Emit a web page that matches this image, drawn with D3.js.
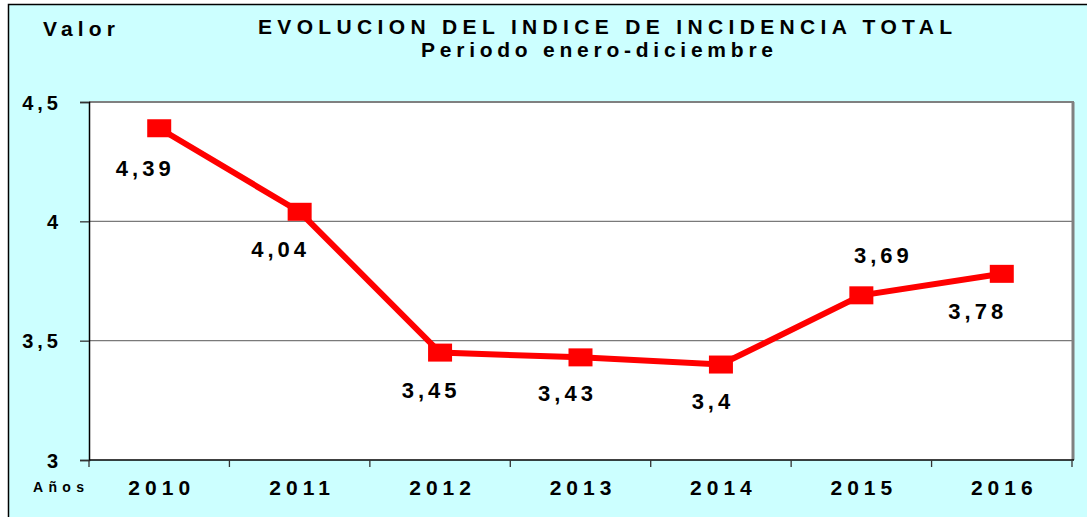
<!DOCTYPE html>
<html>
<head>
<meta charset="utf-8">
<script src="https://cdn.jsdelivr.net/npm/d3@7"></script>
<style>
    body { margin: 0; background: #ffffff; }
    svg text { font-family: "Liberation Sans", Arial, sans-serif; font-weight: bold; fill: #000; }
</style>
</head>
<body>
<svg id="chart" width="1087" height="517"></svg>
<script>
    //////////// DATA ////////////

    var years = ["2010", "2011", "2012", "2013", "2014", "2015", "2016"];
    var values = [4.39, 4.04, 3.45, 3.43, 3.4, 3.69, 3.78];
    var yTicks = [3, 3.5, 4, 4.5];
    // where each value label sits relative to its marker (dx, dy of baseline)
    var labelOffsets = [[-16, 48], [-21, 45], [-11, 45], [-15, 44], [-10, 44], [20, -32], [-26, 45]];

    var titleText = "EVOLUCION DEL INDICE DE INCIDENCIA TOTAL";
    var subtitleText = "Periodo enero-diciembre";

    //////////// LAYOUT ////////////

    var svg = d3.select("#chart");
    var plot = { left: 89, right: 1072, top: 102, bottom: 460 };

    var x = d3.scaleBand()
        .domain(years)
        .range([plot.left, plot.right])
        .paddingInner(0)
        .paddingOuter(0);

    var y = d3.scaleLinear()
        .domain([3, 4.5])
        .range([plot.bottom, plot.top]);

    var fmt = function (d) { return String(d).replace(".", ","); };

    // outer frame
    svg.append("rect")
        .attr("x", 8.5).attr("y", 4.5)
        .attr("width", 1100).attr("height", 530)
        .attr("fill", "#ccffff")
        .attr("stroke", "#000")
        .attr("stroke-width", 1.5);

    // plot area
    svg.append("rect")
        .attr("x", plot.left).attr("y", plot.top)
        .attr("width", plot.right - plot.left)
        .attr("height", plot.bottom - plot.top)
        .attr("fill", "#fff");

    // gridlines
    svg.append("g")
        .selectAll("line")
        .data(yTicks.filter(function (d) { return d > 3 && d < 4.5; }))
        .enter().append("line")
        .attr("x1", plot.left).attr("x2", plot.right)
        .attr("y1", function (d) { return y(d); })
        .attr("y2", function (d) { return y(d); })
        .attr("stroke", "#7a7a7a")
        .attr("stroke-width", 1.3);

    // top and right border of plot
    svg.append("line")
        .attr("x1", plot.left).attr("x2", plot.right + 2)
        .attr("y1", plot.top).attr("y2", plot.top)
        .attr("stroke", "#808080").attr("stroke-width", 2);
    svg.append("line")
        .attr("x1", plot.right + 1).attr("x2", plot.right + 1)
        .attr("y1", plot.top).attr("y2", plot.bottom)
        .attr("stroke", "#808080").attr("stroke-width", 3);

    // y axis
    var yAxis = svg.append("g")
        .attr("transform", "translate(" + plot.left + ",0)")
        .call(d3.axisLeft(y).tickValues(yTicks).tickSize(9).tickFormat(fmt));
    yAxis.attr("font-family", null).attr("font-size", null);
    yAxis.select(".domain").attr("stroke", "#000").attr("stroke-width", 1.5);
    yAxis.selectAll(".tick line").attr("stroke", "#333").attr("stroke-width", 1.3);
    yAxis.selectAll(".tick text")
        .attr("x", -27)
        .attr("dy", "0.36em")
        .style("font-size", "20px")
        .style("letter-spacing", "4px")
        .attr("fill", "#000");

    // x axis: labels centred in bands, ticks at band edges
    var xAxis = svg.append("g")
        .attr("transform", "translate(0," + plot.bottom + ")")
        .call(d3.axisBottom(x).tickSize(0).tickPadding(0));
    xAxis.attr("font-family", null).attr("font-size", null);
    xAxis.select(".domain").remove();
    xAxis.selectAll(".tick text")
        .attr("y", 35)
        .attr("dy", 0)
        .attr("dx", 2.5)
        .style("font-size", "21px")
        .style("letter-spacing", "5px")
        .attr("fill", "#000");

    svg.append("line")
        .attr("x1", plot.left).attr("x2", plot.right + 2)
        .attr("y1", plot.bottom).attr("y2", plot.bottom)
        .attr("stroke", "#000").attr("stroke-width", 1.5);

    var edges = years.map(function (d) { return x(d); }).concat([plot.right]);
    svg.append("g")
        .selectAll("line")
        .data(edges)
        .enter().append("line")
        .attr("x1", function (d) { return d; })
        .attr("x2", function (d) { return d; })
        .attr("y1", plot.bottom)
        .attr("y2", plot.bottom + 7)
        .attr("stroke", "#333")
        .attr("stroke-width", 1.3);

    //////////// SERIES ////////////

    var cx = function (d, i) { return x(years[i]) + x.bandwidth() / 2; };

    var line = d3.line()
        .x(function (d, i) { return cx(d, i); })
        .y(function (d) { return y(d); });

    svg.append("path")
        .datum(values)
        .attr("d", line)
        .attr("fill", "none")
        .attr("stroke", "#ff0000")
        .attr("stroke-width", 6)
        .attr("stroke-linejoin", "miter");

    svg.append("g")
        .selectAll("rect")
        .data(values)
        .enter().append("rect")
        .attr("x", function (d, i) { return cx(d, i) - 12; })
        .attr("y", function (d) { return y(d) - 9; })
        .attr("width", 24)
        .attr("height", 18)
        .attr("fill", "#ff0000");

    svg.append("g")
        .selectAll("text")
        .data(values)
        .enter().append("text")
        .attr("x", function (d, i) { return cx(d, i) + labelOffsets[i][0] + 2; })
        .attr("y", function (d, i) { return y(d) + labelOffsets[i][1]; })
        .attr("text-anchor", "middle")
        .style("font-size", "22px")
        .style("letter-spacing", "4px")
        .text(fmt);

    //////////// TEXTS ////////////

    svg.append("text")
        .attr("x", 258).attr("y", 34)
        .attr("textLength", 694)
        .attr("lengthAdjust", "spacing")
        .style("font-size", "21px")
        .text(titleText);

    svg.append("text")
        .attr("x", 421).attr("y", 57)
        .attr("textLength", 352)
        .attr("lengthAdjust", "spacing")
        .style("font-size", "21px")
        .text(subtitleText);

    svg.append("text")
        .attr("x", 43).attr("y", 36)
        .attr("textLength", 72)
        .attr("lengthAdjust", "spacing")
        .style("font-size", "21px")
        .text("Valor");

    svg.append("text")
        .attr("x", 33).attr("y", 492)
        .attr("textLength", 51)
        .attr("lengthAdjust", "spacing")
        .style("font-size", "14px")
        .text("Años");
</script>
</body>
</html>
